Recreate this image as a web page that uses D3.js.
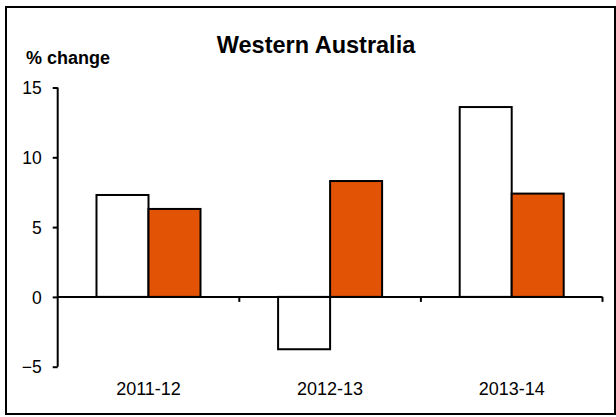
<!DOCTYPE html>
<html><head><meta charset="utf-8">
<script src="https://cdn.jsdelivr.net/npm/d3@7/dist/d3.min.js"></script>
<style>body{margin:0;background:#fff;}svg{display:block;}text{font-family:"Liberation Sans",Arial,sans-serif;fill:#000;}</style>
</head><body>
<svg id="c" width="616" height="417"></svg>
<script>
const categories = ["2011-12", "2012-13", "2013-14"];
const series = ["A", "B"];
const seriesA = [7.3, -3.75, 13.6];
const seriesB = [6.3, 8.3, 7.4];
const yTicks = [-5, 0, 5, 10, 15];
const title = "Western Australia";
const yLabel = "% change";
const colors = ["#ffffff", "#e35306"];

const svg = d3.select("#c");
svg.append("rect").attr("x",6).attr("y",7).attr("width",609).attr("height",407)
  .attr("fill","#fff").attr("stroke","#000").attr("stroke-width",2);

const x0 = d3.scaleBand().domain(categories).range([57.7, 602.5]).paddingInner(0).paddingOuter(0);
const x1 = d3.scaleBand().domain(series).range([0, x0.bandwidth()]).paddingInner(0).paddingOuter(0.746);
const y = d3.scaleLinear().domain([-5, 15]).range([366.7, 87.5]);

const data = categories.map((c,i)=>({cat:c, vals:[seriesA[i], seriesB[i]]}));
const g = svg.append("g");
data.forEach(d=>{
  d.vals.forEach((v,j)=>{
    g.append("rect")
      .attr("x", x0(d.cat)+x1(series[j]))
      .attr("y", y(Math.max(0,v)))
      .attr("width", x1.bandwidth())
      .attr("height", Math.abs(y(v)-y(0)))
      .attr("fill", colors[j]).attr("stroke","#000").attr("stroke-width",2);
  });
});

// y axis
const yAxis = d3.axisLeft(y).tickValues(yTicks).tickSize(5).tickPadding(11).tickFormat(d3.format("d"));
const ya = svg.append("g").attr("transform","translate(57.7,0)").call(yAxis);
ya.select(".domain").attr("stroke","#000").attr("stroke-width",2).attr("d","M0,"+y(-5)+"V"+y(15));
ya.selectAll(".tick line").attr("stroke-width",2).attr("stroke","#000");
ya.selectAll(".tick text").attr("font-size","17.5px").attr("font-family","Liberation Sans, Arial, sans-serif").attr("fill","#000").attr("dy","0.35em");

// x axis at zero
const boundaries = categories.map(c=>x0(c)+x0.bandwidth());
const xa = svg.append("g").attr("transform","translate(0,"+y(0)+")");
xa.append("line").attr("x1",x0.range()[0]).attr("x2",x0.range()[1]).attr("stroke","#000").attr("stroke-width",2);
xa.selectAll("line.t").data(boundaries).join("line").attr("class","t")
  .attr("x1",d=>d).attr("x2",d=>d).attr("y1",0).attr("y2",5).attr("stroke","#000").attr("stroke-width",2);

// category labels
svg.selectAll("text.cat").data(categories).join("text").attr("class","cat")
  .attr("x",d=>x0(d)+x0.bandwidth()/2).attr("y",395)
  .attr("text-anchor","middle").attr("font-size","18px").text(d=>d);

svg.append("text").attr("x",316).attr("y",53).attr("text-anchor","middle")
  .attr("font-size","23.5px").attr("font-weight","bold").text(title);
svg.append("text").attr("x",26).attr("y",64).attr("font-size","18px").attr("font-weight","bold").text(yLabel);
</script>
</body></html>
